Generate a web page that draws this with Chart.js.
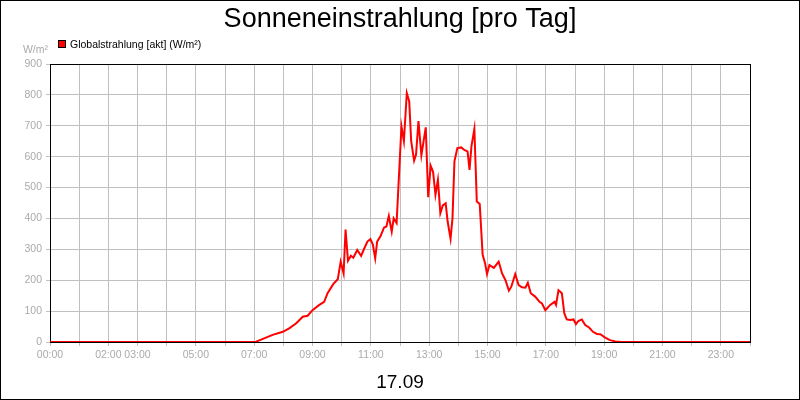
<!DOCTYPE html>
<html>
<head>
<meta charset="utf-8">
<title>Sonneneinstrahlung</title>
<script src="https://cdn.jsdelivr.net/npm/chart.js@4.4.1/dist/chart.umd.min.js"></script>
<style>
  html, body { margin: 0; padding: 0; background: #fff; }
  #chart { display: block; }
</style>
</head>
<body>
<canvas id="chart" width="800" height="400"></canvas>
<script>
// readings of the day (time of day, W/m²)
const times = ['00:00','07:00','07:04','07:18','07:38','07:59','08:12','08:26','08:40','08:50',
  '09:00','09:14','09:24','09:31','09:43','09:52','09:58','10:04','10:08','10:13',
  '10:19','10:24','10:32','10:40','10:46','10:53','10:59','11:04','11:09','11:13',
  '11:20','11:27','11:32','11:37','11:43','11:47','11:53','12:03','12:08','12:14',
  '12:19','12:23','12:29','12:33','12:38','12:44','12:53','12:58','13:03','13:08',
  '13:13','13:18','13:23','13:28','13:34','13:38','13:44','13:48','13:52','13:58',
  '14:06','14:13','14:19','14:23','14:27','14:33','14:38','14:44','14:50','14:55',
  '14:59','15:04','15:13','15:23','15:30','15:37','15:44','15:49','15:57','16:04',
  '16:11','16:18','16:23','16:29','16:38','16:47','16:52','16:59','17:09','17:18',
  '17:21','17:26','17:33','17:38','17:43','17:50','17:57','18:02','18:07','18:14',
  '18:21','18:29','18:37','18:45','18:52','19:02','19:12','19:23','19:36','24:00'];
const globalstrahlung = [0,0,1,10,23,33,44,60,82,85,
  103,120,130,158,188,203,260,222,364,263,
  279,273,298,279,301,325,333,316,271,325,
  343,370,374,408,357,400,385,698,650,806,
  779,650,587,607,715,605,695,469,571,551,
  477,525,417,442,449,390,334,401,585,628,
  630,621,617,557,634,690,455,447,282,255,
  220,249,240,260,222,200,166,179,220,184,
  177,176,192,158,147,130,125,103,120,130,
  120,168,158,93,73,71,73,58,68,73,
  55,47,33,26,25,14,6,2,0,0];

const hourLabels = ['00:00','02:00','03:00','05:00','07:00','09:00','11:00',
  '13:00','15:00','17:00','19:00','21:00','23:00'];
const yTicks = [0,100,200,300,400,500,600,700,800,900];

const points = times.map((t, i) => {
  const [h, m] = t.split(':').map(Number);
  return { x: h + m / 60, y: globalstrahlung[i] };
});

const fontFamily = '"Liberation Sans", Arial, sans-serif';
const tickGray = '#aaaaaa';
const gridGray = '#c0c0c0';

// frame round the plot, outer border and the free texts
const decorations = {
  id: 'decorations',
  beforeDatasetsDraw(chart) {
    const { ctx, chartArea: a } = chart;
    ctx.save();
    ctx.strokeStyle = '#000';
    ctx.lineWidth = 1;
    ctx.strokeRect(a.left + 0.5, a.top + 0.5, a.right - a.left, a.bottom - a.top);
    ctx.restore();
  },
  afterDraw(chart) {
    const { ctx } = chart;
    ctx.save();
    ctx.strokeStyle = '#000';
    ctx.lineWidth = 1;
    ctx.strokeRect(0.5, 0.5, 799, 399);

    ctx.fillStyle = '#000';
    ctx.textAlign = 'center';
    ctx.textBaseline = 'alphabetic';
    ctx.font = '27px ' + fontFamily;
    ctx.fillText('Sonneneinstrahlung [pro Tag]', 400, 27);

    ctx.font = '19px ' + fontFamily;
    ctx.fillText('17.09', 400, 388);

    // legend
    ctx.fillStyle = '#ff0000';
    ctx.fillRect(58, 40, 8, 8);
    ctx.strokeRect(58.5, 40.5, 7, 7);
    ctx.fillStyle = '#000';
    ctx.textAlign = 'left';
    ctx.font = '10.5px ' + fontFamily;
    ctx.fillText('Globalstrahlung [akt] (W/m²)', 70, 48);

    // unit above the y axis
    ctx.fillStyle = tickGray;
    ctx.textAlign = 'right';
    ctx.fillText('W/m²', 48, 53);
    ctx.restore();
  }
};

const ctx = document.getElementById('chart');
const chart = new Chart(ctx, {
  type: 'line',
  data: {
    datasets: [{
      label: 'Globalstrahlung [akt] (W/m²)',
      data: points,
      borderColor: '#ff0000',
      borderWidth: 2,
      pointRadius: 0,
      tension: 0,
      fill: false
    }]
  },
  options: {
    responsive: false,
    animation: false,
    devicePixelRatio: 1,
    layout: { padding: { top: 64, right: 50, left: 0, bottom: 0 } },
    plugins: {
      legend: { display: false },
      title: { display: false },
      tooltip: { enabled: false }
    },
    scales: {
      x: {
        type: 'linear',
        min: 0,
        max: 24,
        afterFit(scale) { scale.height = 58; },
        afterBuildTicks(scale) {
          scale.ticks = [];
          for (let h = 0; h <= 24; h++) scale.ticks.push({ value: h });
        },
        ticks: {
          autoSkip: false,
          maxRotation: 0,
          padding: 3,
          color: tickGray,
          font: { size: 10.5, family: fontFamily },
          callback(v) {
            const lbl = String(v).padStart(2, '0') + ':00';
            return hourLabels.includes(lbl) ? lbl : '';
          }
        },
        grid: { color: gridGray, lineWidth: 1, tickLength: 4, tickColor: gridGray },
        border: { color: '#000' }
      },
      y: {
        min: 0,
        max: 900,
        afterFit(scale) { scale.width = 50; },
        afterBuildTicks(scale) {
          scale.ticks = yTicks.map(v => ({ value: v }));
        },
        ticks: {
          padding: 4,
          color: tickGray,
          font: { size: 10.5, family: fontFamily }
        },
        grid: { color: gridGray, lineWidth: 1, tickLength: 4, tickColor: gridGray },
        border: { color: '#000' }
      }
    }
  },
  plugins: [decorations]
});
</script>
</body>
</html>
